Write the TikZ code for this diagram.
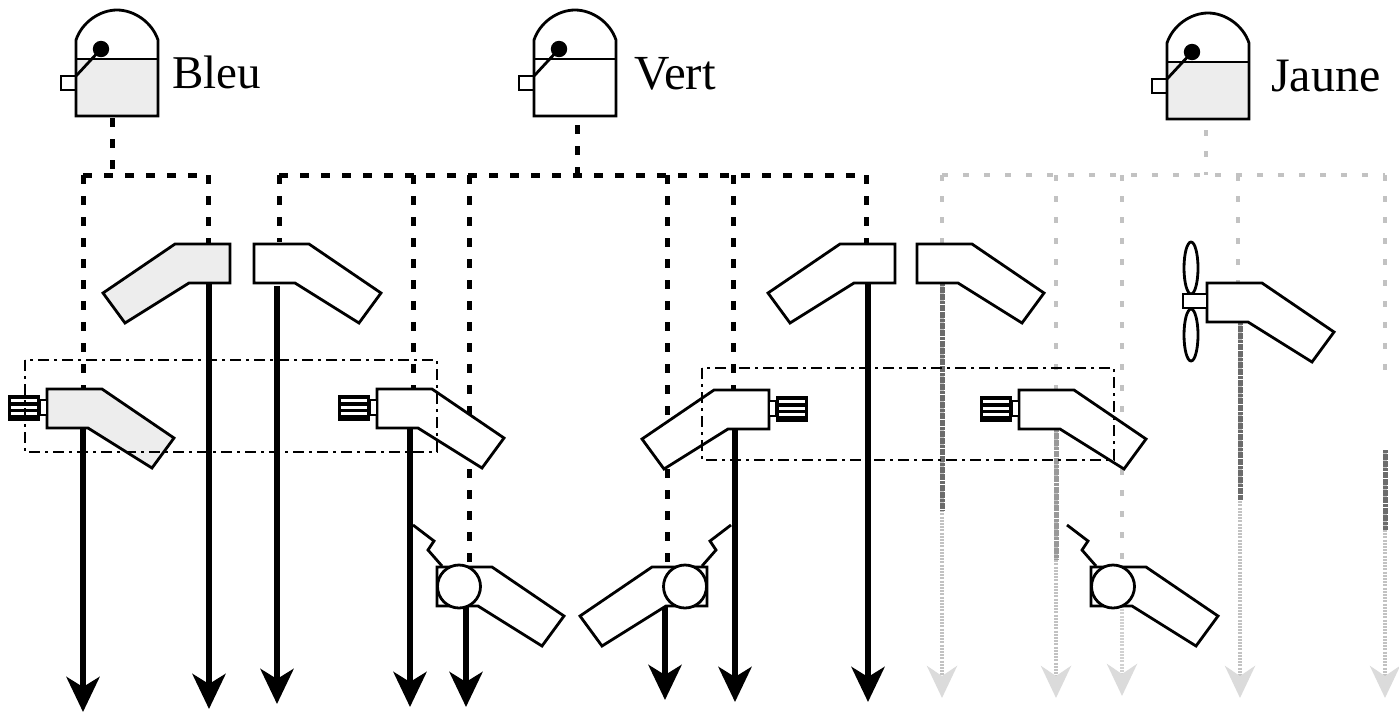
\documentclass[tikz,border=0pt]{standalone}
\usepackage{fontspec}
\setmainfont{Liberation Serif}
\usetikzlibrary{arrows.meta}
\tikzset{
  outline/.style={draw=black,line width=2.8pt,line join=miter},
  engfill/.style={fill=white},
  greyfill/.style={fill=black!7},
  feed/.style={line width=5pt,dash pattern=on 9pt off 12pt,draw=black},
  feedy/.style={line width=3.5pt,dash pattern=on 6pt off 15pt,draw=black!24},
  pipe/.style={-{Stealth[length=35pt,width=33pt,inset=10pt]},line width=6pt,draw=black},
  pipeyl/.style={-{Stealth[length=32pt,width=30pt,inset=10pt,color=black!14]},line width=4.5pt,draw=black!24,dash pattern=on 2pt off 1.2pt},
  pipeyd/.style={line width=5pt,draw=black!58,dash pattern=on 3pt off 0.6pt},
  zone/.style={draw=black,line width=2.6pt,dash pattern=on 11pt off 5pt on 3pt off 5pt},
  lbl/.style={anchor=base west,inner sep=0pt,font=\fontsize{47}{50}\selectfont},
  pics/engine/.style={code={
    \draw[outline,pic actions] (0,0)--(55,0)--(127,49)--(105,79)--(41,39)--(0,39)--cycle;}},
  pics/starter/.style={code={
    \draw[outline,fill=white] (-7,11) rectangle (0,26);
    \fill[black] (-39,6) rectangle (-7,32);
    \fill[white] (-36,10) rectangle (-10,13.2);
    \fill[white] (-36,16.5) rectangle (-10,19.7);
    \fill[white] (-36,23) rectangle (-10,26.2);}},
  pics/pump/.style={code={
    \draw[outline] (5,-1)--(-9,-17)--(-3,-26)--(-24,-42);
    \draw[outline,fill=white] (22,19.5) circle (21.5);}},
  pics/tank/.style={code={
    \draw[outline,fill=white] (-15,66) rectangle (0,80);
    \draw[outline] (0,106)--(0,30) .. controls (6,12) and (24,0) .. (41,0) .. controls (58,0) and (76,12) .. (82,30) --(82,106)--cycle;
    \draw[outline] (0,49)--(82,49);
    \draw[outline] (0,66)--(25,39);
    \fill[black] (25,39) circle (8.2);}}
}
\begin{document}
\begin{tikzpicture}[x=1pt,y=-1pt]
\useasboundingbox (0,0) rectangle (1399,713);
% reservoirs
\path[greyfill] (77,60) rectangle (157,115);
\pic (tankB) at (76,10) {tank};
\pic (tankV) at (534,10) {tank};
\path[greyfill] (1168,63) rectangle (1247,117);
\pic (tankJ) at (1167,13) {tank};
\node[lbl] (lB) at (172,88) {Bleu};
\node[lbl,font=\fontsize{49}{50}\selectfont] (lV) at (634,89) {Vert};
\node[lbl,font=\fontsize{48}{50}\selectfont] (lJ) at (1271,91) {Jaune};
% junction coordinates
\coordinate (sB) at (112,118);
\coordinate (hB1) at (83,175);  \coordinate (hB2) at (208,175);
\coordinate (jB) at (112,175);
\coordinate (sV) at (577,125);
\coordinate (hV1) at (279,175); \coordinate (hV2) at (866,175);
\coordinate (jV) at (577,175);
\coordinate (sJ) at (1206,130);
\coordinate (hJ1) at (942,175); \coordinate (hJ2) at (1385,175);
\coordinate (jJ) at (1206,175);
% feed lines, yellow
\draw[feedy] (sJ)--(jJ);
\draw[feedy] (hJ1)--(hJ2);
\draw[feedy] (hJ1)--(942,243);
\draw[feedy] (1056,175)--(1056,390);
\draw[feedy] (1122,175)--(1122,567);
\draw[feedy] (1238,175)--(1238,283);
\draw[feedy] (hJ2)--(1385,382);
% feed lines, blue
\draw[feed] (sB)--(jB);
\draw[feed] (hB1)--(hB2);
\draw[feed] (hB1)--(83,389);
\draw[feed] (hB2)--(208,244);
% feed lines, green
\draw[feed] (sV)--(jV);
\draw[feed] (hV1)--(hV2);
\draw[feed] (hV1)--(279,242);
\draw[feed] (413,175)--(413,389);
\draw[feed] (469,175)--(469,567);
\draw[feed] (667,175)--(667,567);
\draw[feed] (733,175)--(733,389);
\draw[feed] (hV2)--(866,243);
% yellow outlets
\draw[pipeyl] (942,283)--(942,698);
\draw[pipeyd] (942,283)--(942,510);
\draw[pipeyl] (1056,429)--(1056,698);
\draw[pipeyd,draw=black!40] (1056,429)--(1056,560);
\draw[pipeyl,draw=black!18] (1122,606)--(1122,696);
\draw[pipeyl] (1240,322)--(1240,698);
\draw[pipeyd] (1240,322)--(1240,500);
\draw[pipeyl] (1385,450)--(1385,698);
\draw[pipeyd] (1385,450)--(1385,530);
% black outlets
\draw[pipe] (83,429)--(83,712);
\draw[pipe] (209,283)--(209,709);
\draw[pipe] (277,286)--(277,704);
\draw[pipe] (410,429)--(410,707);
\draw[pipe] (466,606)--(466,707);
\draw[pipe] (665,606)--(665,700);
\draw[pipe] (735,429)--(735,702);
\draw[pipe] (868,283)--(868,702);
% engines
\pic[greyfill,xscale=-1] (e1) at (230,244) {engine};
\pic[engfill] (e2) at (254,244) {engine};
\pic[engfill,xscale=-1] (e3) at (895,244) {engine};
\pic[engfill] (e4) at (917,244) {engine};
\pic[greyfill] (e5) at (47,389) {engine};
\pic (s5) at (47,389) {starter};
\pic[engfill] (e6) at (377,389) {engine};
\pic (s6) at (377,389) {starter};
\pic[engfill,xscale=-1] (e7) at (769,390) {engine};
\pic[xscale=-1] (s7) at (769,390) {starter};
\pic[engfill] (e8) at (1019,390) {engine};
\pic (s8) at (1019,390) {starter};
\pic[engfill] (e9) at (437,567) {engine};
\pic (p9) at (437,567) {pump};
\pic[engfill,xscale=-1] (e10) at (707,567) {engine};
\pic[xscale=-1] (p10) at (707,567) {pump};
\pic[engfill] (e11) at (1091,567) {engine};
\pic (p11) at (1091,567) {pump};
% propeller engine
\pic[engfill] (e12) at (1207,283) {engine};
\draw[outline,fill=white] (1191,268) ellipse (7 and 26);
\draw[outline,fill=white] (1191,335) ellipse (7 and 26);
\draw[outline,fill=white] (1183,294) rectangle (1207,308);
% cross-feed zones
\draw[zone] (25,360) rectangle (437,452);
\draw[zone] (702,368) rectangle (1114,460);
\end{tikzpicture}
\end{document}
